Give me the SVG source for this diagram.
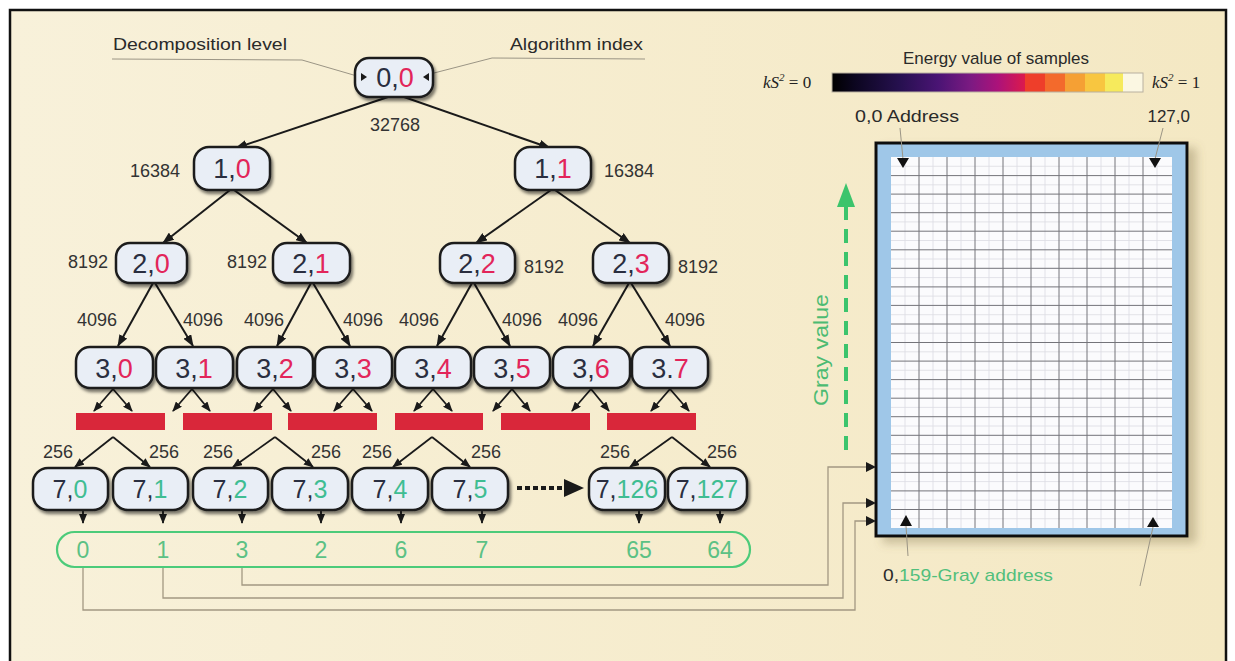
<svg xmlns="http://www.w3.org/2000/svg" width="1235" height="661" viewBox="0 0 1235 661">
  <defs>
    <linearGradient id="bg" x1="0" y1="0" x2="1" y2="0">
      <stop offset="0" stop-color="#f8f1da"/>
      <stop offset="1" stop-color="#f4e8c3"/>
    </linearGradient>
    <linearGradient id="energy" x1="0" y1="0" x2="1" y2="0">
      <stop offset="0" stop-color="#000000"/>
      <stop offset="0.12" stop-color="#0c0620"/>
      <stop offset="0.35" stop-color="#26104f"/>
      <stop offset="0.55" stop-color="#4a1474"/>
      <stop offset="0.72" stop-color="#7c1a82"/>
      <stop offset="0.86" stop-color="#ac127a"/>
      <stop offset="1" stop-color="#dc1a4c"/>
    </linearGradient>
    <filter id="shadow" x="-20%" y="-20%" width="150%" height="160%">
      <feDropShadow dx="2" dy="3" stdDeviation="1.8" flood-color="#000" flood-opacity="0.5"/>
    </filter>
    <filter id="boxShadow" x="-10%" y="-10%" width="130%" height="130%">
      <feDropShadow dx="8" dy="6" stdDeviation="5" flood-color="#7a6a40" flood-opacity="0.35"/>
    </filter>
    <marker id="ah" viewBox="0 0 12 9" refX="11" refY="4.5" markerWidth="12" markerHeight="9" markerUnits="userSpaceOnUse" orient="auto">
      <path d="M0,0 L12,4.5 L0,9 z" fill="#1a1a1a"/>
    </marker>
    <marker id="ahs" viewBox="0 0 10 8" refX="9" refY="4" markerWidth="10" markerHeight="8" markerUnits="userSpaceOnUse" orient="auto">
      <path d="M0,0 L10,4 L0,8 z" fill="#1a1a1a"/>
    </marker>
    <style>
      .node rect { fill: #e9eef6; stroke: #1e1e1e; stroke-width: 2.5; filter: url(#shadow); }
      .nt { font-family: "Liberation Sans", Arial, sans-serif; font-size: 27px; fill: #2a2e40; text-anchor: middle; }
      .n7 { font-size: 25px; }
      .idx { fill: #e2255a; }
      .g7 { fill: #3fbd92; }
      .lbl { font-family: "Liberation Sans", Arial, sans-serif; font-size: 18px; fill: #333; }
      .cap { font-family: "Liberation Sans", Arial, sans-serif; font-size: 17px; fill: #2a2a2a; }
      .green { fill: #52bf7c; }
      .edge { stroke: #1a1a1a; stroke-width: 2; fill: none; marker-end: url(#ah); }
      .sedge { stroke: #1a1a1a; stroke-width: 1.8; fill: none; marker-end: url(#ahs); }
      .lead { stroke: #9b9585; stroke-width: 1; fill: none; }
      .wire { stroke: #a39882; stroke-width: 1.3; fill: none; }
      .bar { fill: #d9273a; }
      .num { font-family: "Liberation Sans", Arial, sans-serif; font-size: 23px; fill: #5cc184; text-anchor: middle; }
      .math { font-family: "Liberation Serif", "Times New Roman", serif; font-size: 17px; fill: #222; }
    </style>
  </defs>

  <!-- page -->
  <rect x="0" y="0" width="1235" height="661" fill="#ffffff"/>
  <rect x="10" y="10" width="1216" height="660" fill="url(#bg)" stroke="#111" stroke-width="2.5"/>

  <!-- captions -->
  <g id="captions">
    <text class="cap" x="113" y="50" textLength="174" lengthAdjust="spacingAndGlyphs">Decomposition level</text>
    <text class="cap" x="510" y="50" textLength="133" lengthAdjust="spacingAndGlyphs">Algorithm index</text>
    <polyline class="lead" points="112,59 302,60 357,76"/>
    <polyline class="lead" points="434,73 492,58 645,59"/>
  </g>

  <!-- connectors -->
  <g id="connectors">
    <!-- level 0 to 1 -->
    <line class="edge" x1="388" y1="97" x2="236" y2="148"/>
    <line class="edge" x1="404" y1="97" x2="550" y2="148"/>
    <!-- level 1 to 2 -->
    <line class="edge" x1="230" y1="190" x2="163" y2="243"/>
    <line class="edge" x1="234" y1="190" x2="307" y2="243"/>
    <line class="edge" x1="551" y1="190" x2="476" y2="243"/>
    <line class="edge" x1="555" y1="190" x2="630" y2="243"/>
    <!-- level 2 to 3 -->
    <line class="edge" x1="153" y1="283" x2="118" y2="346"/>
    <line class="edge" x1="155" y1="283" x2="193" y2="346"/>
    <line class="edge" x1="311" y1="283" x2="277" y2="346"/>
    <line class="edge" x1="313" y1="283" x2="350" y2="346"/>
    <line class="edge" x1="472" y1="283" x2="437" y2="346"/>
    <line class="edge" x1="474" y1="283" x2="510" y2="346"/>
    <line class="edge" x1="629" y1="283" x2="593" y2="346"/>
    <line class="edge" x1="631" y1="283" x2="670" y2="346"/>
    <!-- level 3 to bars -->
    <line class="sedge" x1="113" y1="389" x2="94" y2="411"/>
    <line class="sedge" x1="113" y1="389" x2="132" y2="411"/>
    <line class="sedge" x1="192" y1="389" x2="173" y2="411"/>
    <line class="sedge" x1="192" y1="389" x2="210" y2="411"/>
    <line class="sedge" x1="273" y1="389" x2="254" y2="411"/>
    <line class="sedge" x1="273" y1="389" x2="291" y2="411"/>
    <line class="sedge" x1="353" y1="389" x2="334" y2="411"/>
    <line class="sedge" x1="353" y1="389" x2="372" y2="411"/>
    <line class="sedge" x1="433" y1="389" x2="414" y2="411"/>
    <line class="sedge" x1="433" y1="389" x2="452" y2="411"/>
    <line class="sedge" x1="512" y1="389" x2="493" y2="411"/>
    <line class="sedge" x1="512" y1="389" x2="530" y2="411"/>
    <line class="sedge" x1="591" y1="389" x2="572" y2="411"/>
    <line class="sedge" x1="591" y1="389" x2="609" y2="411"/>
    <line class="sedge" x1="670" y1="389" x2="651" y2="411"/>
    <line class="sedge" x1="670" y1="389" x2="689" y2="411"/>
    <!-- bars to level 7 -->
    <polyline class="sedge" points="113,437 75,467"/>
    <polyline class="sedge" points="113,437 150,467"/>
    <polyline class="sedge" points="275,437 233,467"/>
    <polyline class="sedge" points="275,437 313,467"/>
    <polyline class="sedge" points="432,437 393,467"/>
    <polyline class="sedge" points="432,437 470,467"/>
    <polyline class="sedge" points="672,437 630,467"/>
    <polyline class="sedge" points="672,437 710,467"/>
    <!-- level 7 to list -->
    <line class="sedge" x1="83" y1="497" x2="83" y2="523"/>
    <line class="sedge" x1="163" y1="497" x2="163" y2="523"/>
    <line class="sedge" x1="242" y1="497" x2="242" y2="523"/>
    <line class="sedge" x1="321" y1="497" x2="321" y2="523"/>
    <line class="sedge" x1="401" y1="497" x2="401" y2="523"/>
    <line class="sedge" x1="482" y1="497" x2="482" y2="523"/>
    <line class="sedge" x1="639" y1="497" x2="639" y2="523"/>
    <line class="sedge" x1="720" y1="497" x2="720" y2="523"/>
    <!-- continuation -->
    <line x1="517" y1="488" x2="566" y2="488" stroke="#1a1a1a" stroke-width="4" stroke-dasharray="5 3"/>
    <polygon points="564,479 584,488 564,497" fill="#1a1a1a"/>
    <!-- list to grid -->
    <polyline class="wire" points="242,567 242,585 828,585 828,467 866,467"/>
    <polyline class="wire" points="163,567 163,598 843,598 843,503 866,503"/>
    <polyline class="wire" points="83,567 83,610 855,610 855,521 866,521"/>
    <polygon points="866,462 876,467 866,472" fill="#1a1a1a"/>
    <polygon points="866,498 876,503 866,508" fill="#1a1a1a"/>
    <polygon points="866,516 876,521 866,526" fill="#1a1a1a"/>
  </g>

  <!-- edge weights -->
  <g id="weights" class="lbl">
    <text x="395" y="131" text-anchor="middle">32768</text>
    <text x="130" y="177">16384</text>
    <text x="604" y="177">16384</text>
    <text x="68" y="268">8192</text>
    <text x="227" y="268">8192</text>
    <text x="524" y="273">8192</text>
    <text x="678" y="273">8192</text>
    <text x="77" y="326">4096</text>
    <text x="183" y="326">4096</text>
    <text x="244" y="326">4096</text>
    <text x="343" y="326">4096</text>
    <text x="399" y="326">4096</text>
    <text x="502" y="326">4096</text>
    <text x="558" y="326">4096</text>
    <text x="665" y="326">4096</text>
    <text x="43" y="458">256</text>
    <text x="149" y="458">256</text>
    <text x="203" y="458">256</text>
    <text x="311" y="458">256</text>
    <text x="362" y="458">256</text>
    <text x="471" y="458">256</text>
    <text x="600" y="458">256</text>
    <text x="707" y="458">256</text>
  </g>

  <!-- level 0 -->
  <g id="n0_0" class="node">
    <rect x="355" y="58" width="78" height="39" rx="14"/>
    <polygon points="361,73 361,81 367,77" fill="#1a1a1a"/>
    <polygon points="429,73 429,81 423,77" fill="#1a1a1a"/>
    <text class="nt" x="395" y="87">0,<tspan class="idx">0</tspan></text>
  </g>

  <!-- level 1 -->
  <g id="n1_0" class="node"><rect x="194" y="147" width="76" height="43" rx="15"/><text class="nt" x="232" y="178">1,<tspan class="idx">0</tspan></text></g>
  <g id="n1_1" class="node"><rect x="515" y="147" width="76" height="43" rx="15"/><text class="nt" x="553" y="178">1,<tspan class="idx">1</tspan></text></g>

  <!-- level 2 -->
  <g id="n2_0" class="node"><rect x="116" y="243" width="71" height="40" rx="14"/><text class="nt" x="151" y="273">2,<tspan class="idx">0</tspan></text></g>
  <g id="n2_1" class="node"><rect x="273" y="243" width="77" height="40" rx="14"/><text class="nt" x="311" y="273">2,<tspan class="idx">1</tspan></text></g>
  <g id="n2_2" class="node"><rect x="440" y="243" width="75" height="40" rx="14"/><text class="nt" x="477" y="273">2,<tspan class="idx">2</tspan></text></g>
  <g id="n2_3" class="node"><rect x="593" y="243" width="76" height="40" rx="14"/><text class="nt" x="631" y="273">2,<tspan class="idx">3</tspan></text></g>

  <!-- level 3 -->
  <g id="n3_0" class="node"><rect x="76" y="347" width="77" height="41" rx="14"/><text class="nt" x="114" y="378">3,<tspan class="idx">0</tspan></text></g>
  <g id="n3_1" class="node"><rect x="156" y="347" width="77" height="41" rx="14"/><text class="nt" x="194" y="378">3,<tspan class="idx">1</tspan></text></g>
  <g id="n3_2" class="node"><rect x="237" y="347" width="76" height="41" rx="14"/><text class="nt" x="275" y="378">3,<tspan class="idx">2</tspan></text></g>
  <g id="n3_3" class="node"><rect x="315" y="347" width="77" height="41" rx="14"/><text class="nt" x="353" y="378">3,<tspan class="idx">3</tspan></text></g>
  <g id="n3_4" class="node"><rect x="395" y="347" width="76" height="41" rx="14"/><text class="nt" x="433" y="378">3,<tspan class="idx">4</tspan></text></g>
  <g id="n3_5" class="node"><rect x="474" y="347" width="76" height="41" rx="14"/><text class="nt" x="512" y="378">3,<tspan class="idx">5</tspan></text></g>
  <g id="n3_6" class="node"><rect x="553" y="347" width="77" height="41" rx="14"/><text class="nt" x="591" y="378">3,<tspan class="idx">6</tspan></text></g>
  <g id="n3_7" class="node"><rect x="632" y="347" width="76" height="41" rx="14"/><text class="nt" x="670" y="378">3.<tspan class="idx">7</tspan></text></g>

  <!-- intermediate levels -->
  <g id="bars">
    <rect class="bar" x="76" y="413" width="89" height="17"/>
    <rect class="bar" x="183" y="413" width="89" height="17"/>
    <rect class="bar" x="288" y="413" width="89" height="17"/>
    <rect class="bar" x="395" y="413" width="88" height="17"/>
    <rect class="bar" x="501" y="413" width="89" height="17"/>
    <rect class="bar" x="607" y="413" width="89" height="17"/>
  </g>

  <!-- level 7 -->
  <g id="n7_0" class="node"><rect x="33" y="468" width="75" height="42" rx="15"/><text class="nt n7" x="70" y="498">7,<tspan class="g7">0</tspan></text></g>
  <g id="n7_1" class="node"><rect x="113" y="468" width="75" height="42" rx="15"/><text class="nt n7" x="150" y="498">7,<tspan class="g7">1</tspan></text></g>
  <g id="n7_2" class="node"><rect x="193" y="468" width="75" height="42" rx="15"/><text class="nt n7" x="230" y="498">7,<tspan class="g7">2</tspan></text></g>
  <g id="n7_3" class="node"><rect x="272" y="468" width="76" height="42" rx="15"/><text class="nt n7" x="310" y="498">7,<tspan class="g7">3</tspan></text></g>
  <g id="n7_4" class="node"><rect x="352" y="468" width="76" height="42" rx="15"/><text class="nt n7" x="390" y="498">7,<tspan class="g7">4</tspan></text></g>
  <g id="n7_5" class="node"><rect x="432" y="468" width="76" height="42" rx="15"/><text class="nt n7" x="470" y="498">7,<tspan class="g7">5</tspan></text></g>
  <g id="n7_126" class="node"><rect x="589" y="468" width="76" height="42" rx="15"/><text class="nt n7" x="627" y="498">7,<tspan class="g7">126</tspan></text></g>
  <g id="n7_127" class="node"><rect x="668" y="468" width="79" height="42" rx="15"/><text class="nt n7" x="707" y="498">7,<tspan class="g7">127</tspan></text></g>

  <!-- gray-code order list -->
  <g id="order">
    <rect x="57" y="532" width="693" height="35" rx="17.5" fill="none" stroke="#4ccb7a" stroke-width="2.2"/>
    <text class="num" x="83" y="558">0</text>
    <text class="num" x="163" y="558">1</text>
    <text class="num" x="242" y="558">3</text>
    <text class="num" x="321" y="558">2</text>
    <text class="num" x="401" y="558">6</text>
    <text class="num" x="482" y="558">7</text>
    <text class="num" x="639" y="558">65</text>
    <text class="num" x="720" y="558">64</text>
  </g>

  <!-- energy colour scale -->
  <g id="scale">
    <text class="cap" x="996" y="64" text-anchor="middle">Energy value of samples</text>
    <text class="math" x="763" y="88" font-style="italic">kS<tspan font-size="11" dy="-7">2</tspan><tspan font-style="normal" dy="7"> = 0</tspan></text>
    <text class="math" x="1152" y="88" font-style="italic">kS<tspan font-size="11" dy="-7">2</tspan><tspan font-style="normal" dy="7"> = 1</tspan></text>
    <rect x="832" y="73" width="193" height="19" fill="url(#energy)"/>
    <rect x="1025" y="73" width="20" height="19" fill="#ee3e2a"/>
    <rect x="1045" y="73" width="20" height="19" fill="#f36a2c"/>
    <rect x="1065" y="73" width="20" height="19" fill="#f5a034"/>
    <rect x="1085" y="73" width="20" height="19" fill="#f8c640"/>
    <rect x="1105" y="73" width="18" height="19" fill="#f6ea5c"/>
    <rect x="1123" y="73" width="20" height="19" fill="#fbf7e2"/>
    <rect x="832" y="73" width="311" height="19" fill="none" stroke="#b8b0a0" stroke-width="1"/>
  </g>

  <!-- gray value axis -->
  <g id="grayAxis">
    <line x1="846" y1="450" x2="846" y2="207" stroke="#3cc46c" stroke-width="4" stroke-dasharray="14 9"/>
    <polygon points="837,207 855,207 846,183" fill="#3cc46c"/>
    <text x="828" y="350" transform="rotate(-90 828 350)" text-anchor="middle" font-family="Liberation Sans, Arial, sans-serif" font-size="20" fill="#4cbb72" textLength="112" lengthAdjust="spacingAndGlyphs">Gray value</text>
  </g>

  <!-- sample grid -->
  <g id="grid">
    <g filter="url(#boxShadow)">
      <rect x="876" y="143" width="311" height="393" fill="#9fc7e8" stroke="#111" stroke-width="3"/>
    </g>
    <rect x="891" y="157" width="281" height="371" fill="#fbfbfd"/>
    <g stroke="#dcdce2" stroke-width="0.8">
      <path d="M905,157V528M933,157V528M961,157V528M989,157V528M1017,157V528M1045,157V528M1073,157V528M1101,157V528M1129,157V528M1157,157V528"/>
      <path d="M891,166.3H1172M891,184.8H1172M891,203.4H1172M891,221.9H1172M891,240.5H1172M891,259H1172M891,277.6H1172M891,296.1H1172M891,314.7H1172M891,333.2H1172M891,351.8H1172M891,370.3H1172M891,388.9H1172M891,407.4H1172M891,426H1172M891,444.5H1172M891,463.1H1172M891,481.6H1172M891,500.2H1172M891,518.7H1172"/>
    </g>
    <g stroke="#74747a" stroke-width="1">
      <path d="M919,157V528M947,157V528M975,157V528M1003,157V528M1031,157V528M1059,157V528M1087,157V528M1115,157V528M1143,157V528"/>
      <path d="M891,175.6H1172M891,194.1H1172M891,212.7H1172M891,231.2H1172M891,249.8H1172M891,268.3H1172M891,286.9H1172M891,305.4H1172M891,324H1172M891,342.5H1172M891,361.1H1172M891,379.6H1172M891,398.2H1172M891,416.7H1172M891,435.3H1172M891,453.8H1172M891,472.4H1172M891,490.9H1172M891,509.5H1172"/>
    </g>
    <!-- corner markers and address labels -->
    <line class="lead" x1="900" y1="128" x2="903" y2="159"/>
    <line class="lead" x1="1163" y1="128" x2="1155" y2="159"/>
    <line class="lead" x1="906" y1="526" x2="908" y2="556"/>
    <line class="lead" x1="1153" y1="527" x2="1140" y2="586"/>
    <polygon points="897,158 909,158 903,168" fill="#111"/>
    <polygon points="1149,158 1161,158 1155,168" fill="#111"/>
    <polygon points="900,526 912,526 906,515" fill="#111"/>
    <polygon points="1147,527 1159,527 1153,517" fill="#111"/>
    <text class="cap" x="855" y="122" textLength="104" lengthAdjust="spacingAndGlyphs">0,0 Address</text>
    <text class="cap" x="1190" y="122" text-anchor="end">127,0</text>
    <text class="cap" x="883" y="581" textLength="170" lengthAdjust="spacingAndGlyphs">0,<tspan class="green">159-Gray address</tspan></text>
  </g>
</svg>
